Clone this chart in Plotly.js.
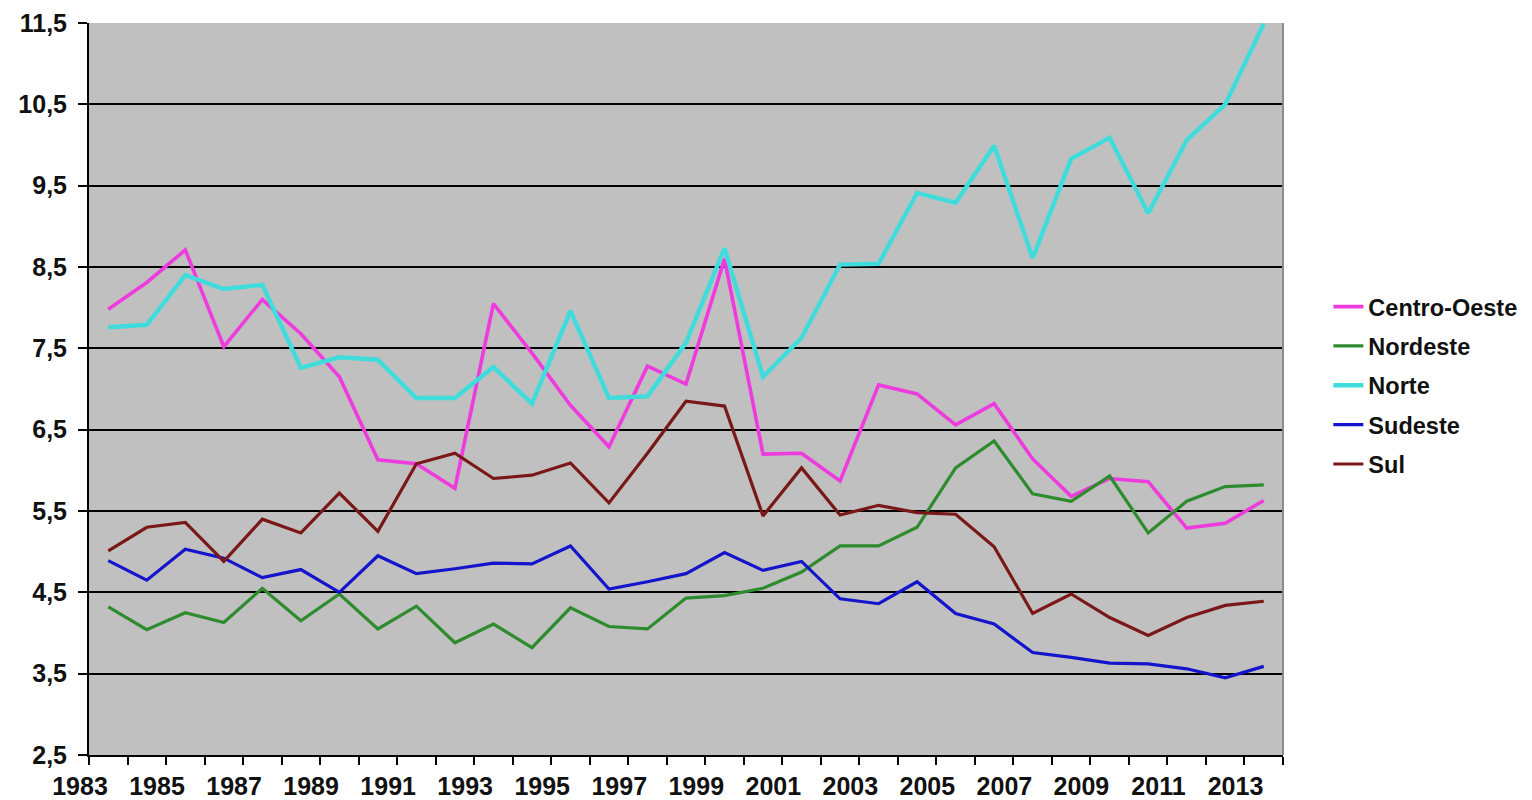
<!DOCTYPE html>
<html><head><meta charset="utf-8">
<script src="https://cdn.plot.ly/plotly-3.0.1.min.js"></script>
<style>html,body{margin:0;padding:0;background:#fff}#chart{width:1532px;height:800px}</style>
</head><body><div id="chart"></div>
<script>
const years = [1983,1984,1985,1986,1987,1988,1989,1990,1991,1992,1993,1994,1995,1996,1997,1998,1999,2000,2001,2002,2003,2004,2005,2006,2007,2008,2009,2010,2011,2012,2013];
const centroOeste = [7.98,8.31,8.71,7.52,8.10,7.68,7.15,6.13,6.08,5.78,8.05,7.44,6.80,6.29,7.28,7.06,8.60,6.20,6.21,5.87,7.05,6.94,6.56,6.82,6.14,5.68,5.90,5.86,5.29,5.35,5.63];
const nordeste    = [4.32,4.04,4.25,4.13,4.55,4.15,4.48,4.05,4.33,3.88,4.11,3.82,4.31,4.08,4.05,4.43,4.46,4.55,4.75,5.07,5.07,5.30,6.03,6.36,5.71,5.62,5.93,5.23,5.62,5.80,5.82];
const norte       = [7.76,7.79,8.40,8.23,8.28,7.26,7.39,7.36,6.89,6.89,7.27,6.82,7.96,6.89,6.91,7.57,8.73,7.15,7.63,8.53,8.54,9.41,9.29,9.99,8.61,9.83,10.09,9.16,10.06,10.50,11.49];
const sudeste     = [4.89,4.65,5.03,4.92,4.68,4.78,4.50,4.95,4.73,4.79,4.86,4.85,5.07,4.54,4.63,4.73,4.99,4.77,4.88,4.42,4.36,4.63,4.24,4.11,3.76,3.70,3.63,3.62,3.56,3.45,3.59];
const sul         = [5.01,5.30,5.36,4.88,5.40,5.23,5.72,5.25,6.08,6.21,5.90,5.94,6.09,5.60,6.21,6.85,6.79,5.44,6.03,5.45,5.57,5.48,5.46,5.06,4.24,4.48,4.19,3.97,4.19,4.34,4.39];
const seriesNames = ['Centro-Oeste','Nordeste','Norte','Sudeste','Sul'];
const seriesColors = ['#EE3BDD','#2E8B2E','#40DCDC','#1414CC','#7A1818'];
const seriesWidths = [3.6,3.2,4.4,3.2,3.2];
const labelYears = years.filter((y,i)=>i%2===0);

const allValues = [centroOeste, nordeste, norte, sudeste, sul];
const traces = allValues.map((vals,k)=>({
  type:'scatter', mode:'lines', x: years, y: vals, name: seriesNames[k],
  legendgroup: seriesNames[k],
  line:{color: seriesColors[k], width: seriesWidths[k]}
}));

const FONT = 'Liberation Sans, Arial, sans-serif';
const layout = {
  width:1532, height:800,
  margin:{l:89, r:249, t:23, b:45, autoexpand:false},
  paper_bgcolor:'#ffffff', plot_bgcolor:'#C0C0C0',
  separators:', ',
  showlegend:true,
  legend:{x:1.038, xanchor:'left', y:0.505, yanchor:'middle', traceorder:'grouped', tracegroupgap:5.8,
          font:{family:FONT, size:23.5, weight:'bold', color:'#111'}, bgcolor:'rgba(0,0,0,0)', borderwidth:0},
  xaxis:{range:[years[0]-0.5, years[years.length-1]+0.5], tickmode:'array',
         tickvals: labelYears.map(y=>y-0.5), ticktext: labelYears.map(String),
         ticks:'outside', ticklen:8, tickwidth:2, tickcolor:'#000', ticklabelshift:-9,
         minor:{tickmode:'linear', tick0: years[0]-0.5, dtick:1, ticks:'outside', ticklen:8, tickwidth:2, tickcolor:'#000', showgrid:false},
         showgrid:false, zeroline:false, showline:true, linecolor:'#000', linewidth:2,
         tickfont:{family:FONT, size:25, weight:'bold', color:'#111'}},
  yaxis:{range:[2.5,11.5], tickmode:'linear', tick0:2.5, dtick:1, tickformat:'.1f',
         ticks:'outside', ticklen:9, tickwidth:2, tickcolor:'#000', ticklabelstandoff:6,
         showgrid:true, gridcolor:'#000', gridwidth:2, zeroline:false,
         showline:true, linecolor:'#000', linewidth:2,
         tickfont:{family:FONT, size:25, weight:'bold', color:'#111'}},
  shapes:[{type:'line', xref:'paper', yref:'paper', x0:1, x1:1, y0:0, y1:1, line:{color:'#8c8c8c', width:2}}],
  hovermode:false
};
Plotly.newPlot('chart', traces, layout, {staticPlot:true, displayModeBar:false});
</script>
</body></html>
